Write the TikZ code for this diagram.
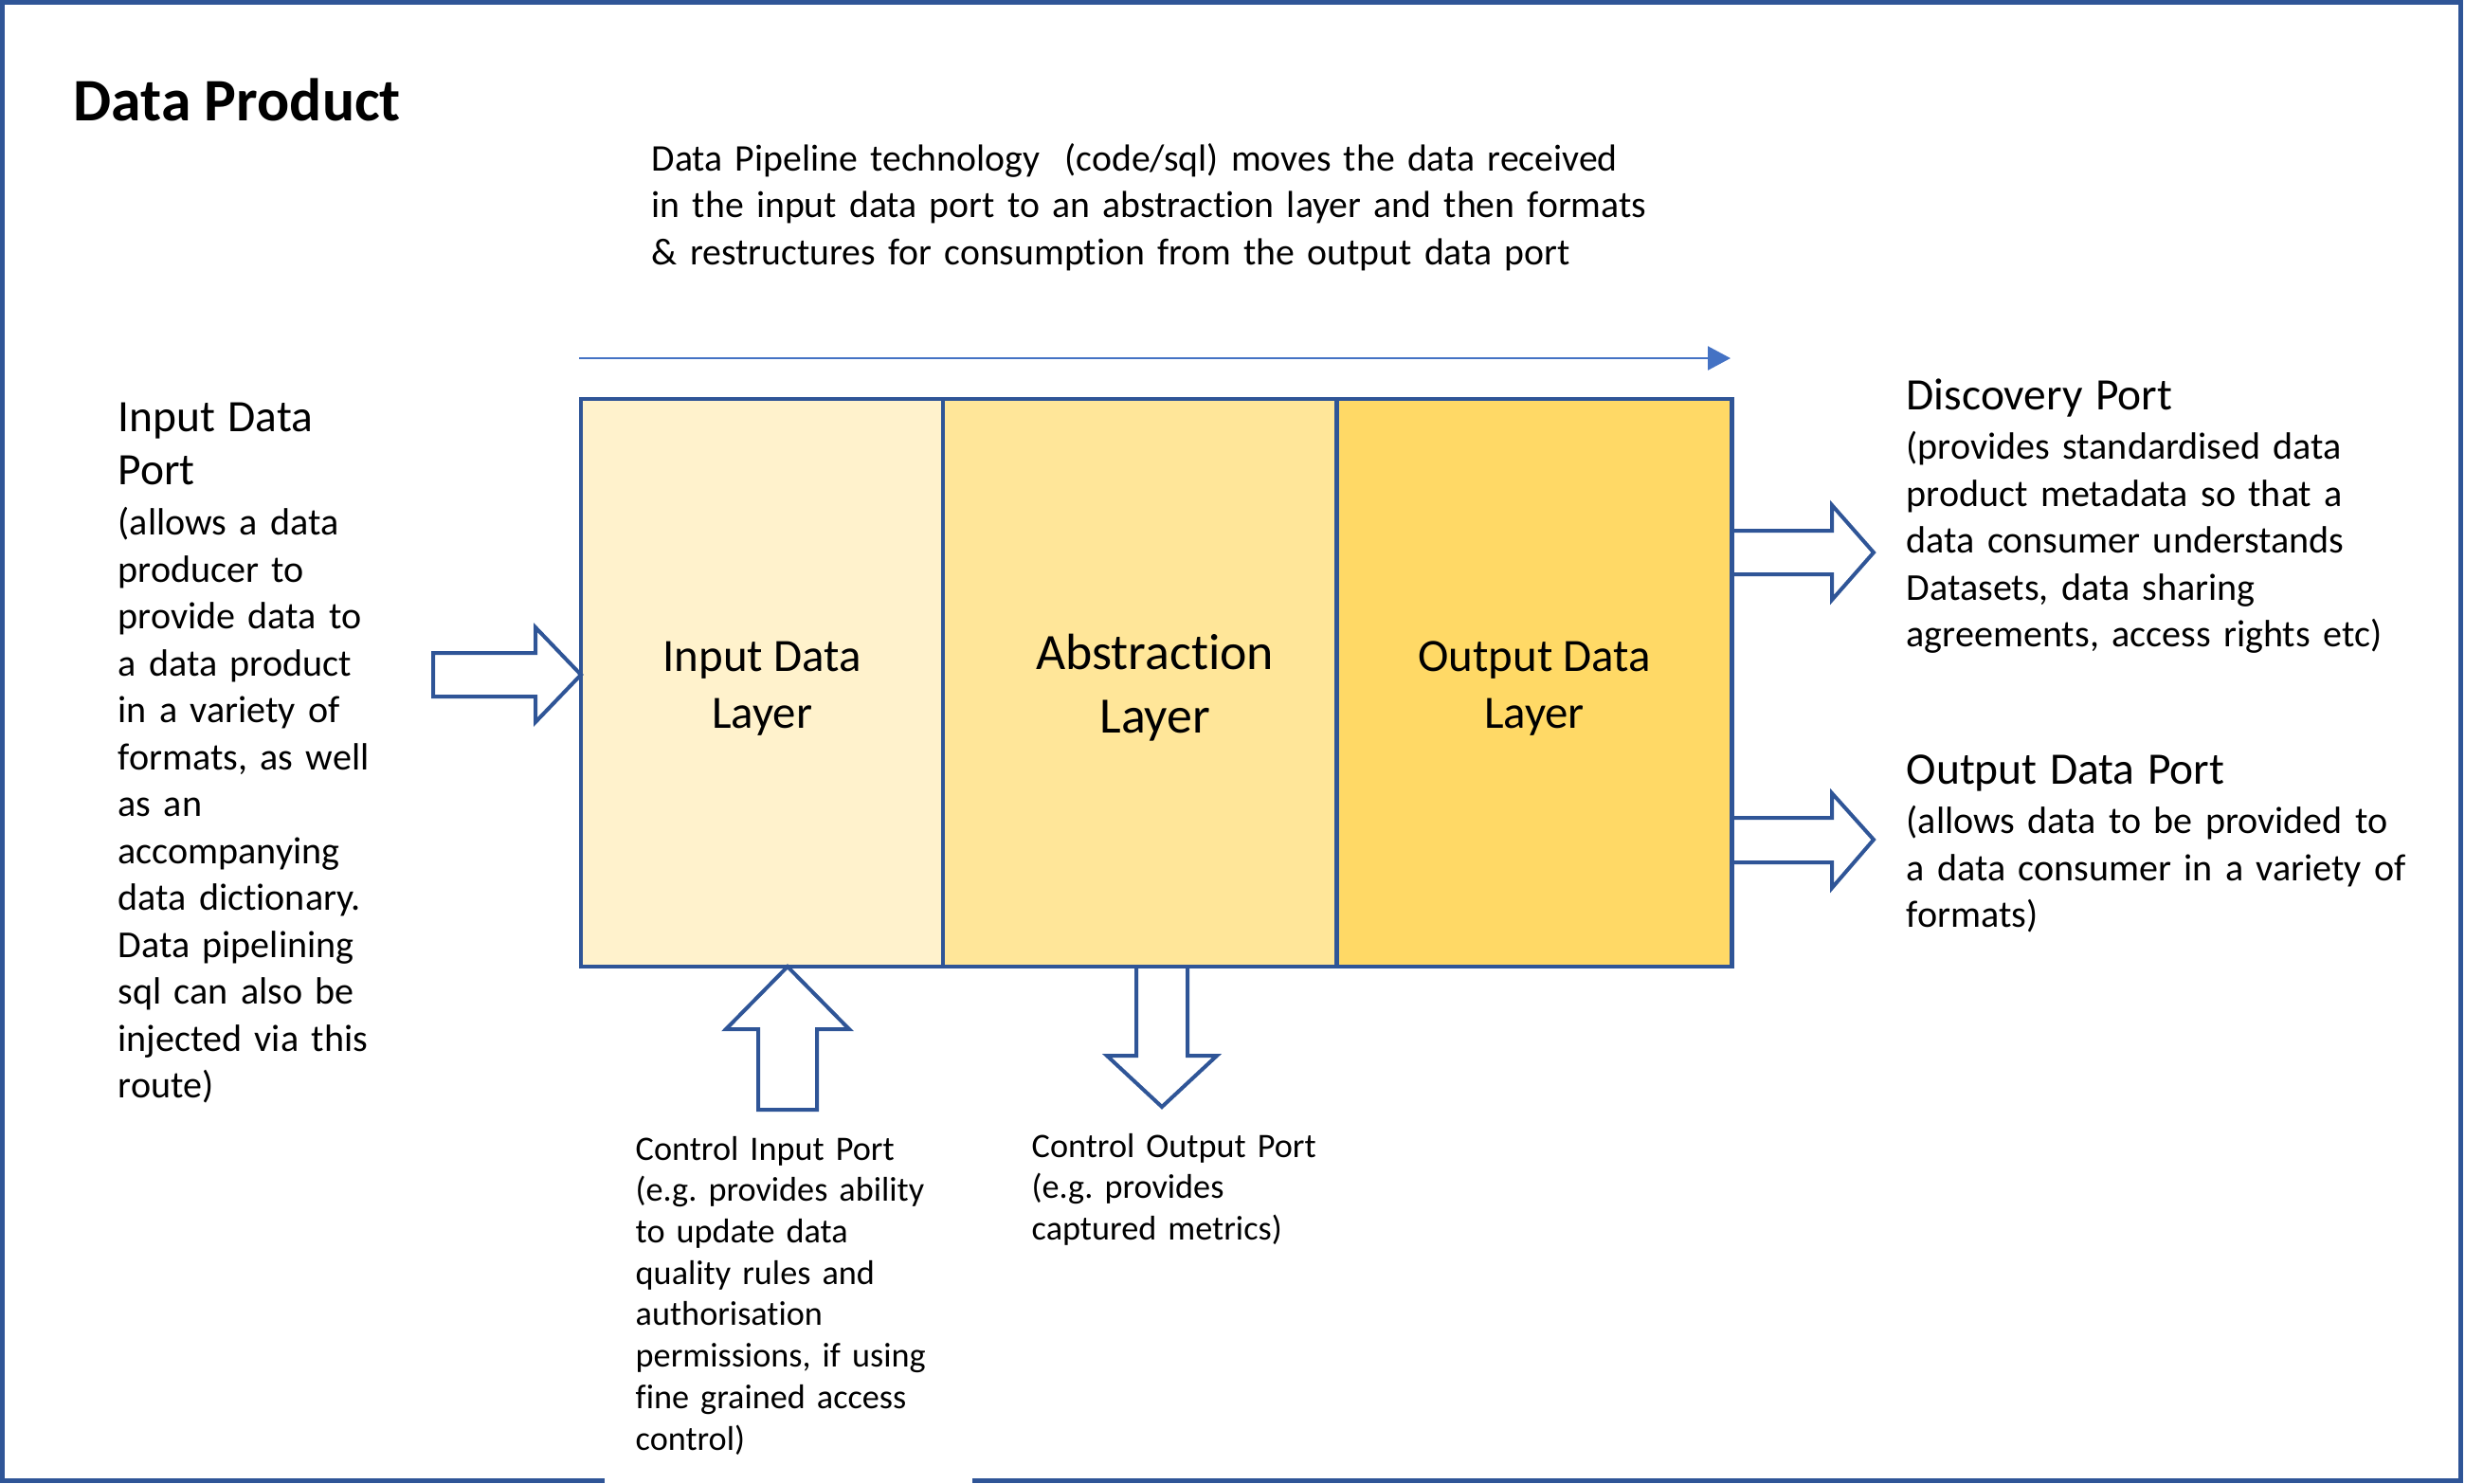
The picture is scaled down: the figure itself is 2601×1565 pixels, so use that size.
\documentclass[tikz,border=0pt]{standalone}
\usepackage{fontspec}
\setmainfont[Ligatures=NoCommon]{Carlito}
\usetikzlibrary{arrows.meta,positioning}
\frenchspacing
\definecolor{frameblue}{HTML}{2F5597}
\definecolor{pipeblue}{HTML}{4472C4}
\definecolor{gold1}{HTML}{FFF2CC}
\definecolor{gold2}{HTML}{FFE699}
\definecolor{gold3}{HTML}{FFD966}
\tikzstyle{layer} = [rectangle, draw=frameblue, line width=0.045cm, minimum height=5.99cm, outer sep=0pt, inner sep=0pt]
\tikzstyle{lbl} = [inner sep=0pt, align=center, font=\fontsize{13.9}{17}\selectfont]
\tikzstyle{txt} = [anchor=base west, inner sep=0pt, align=left, text width=6cm, font=\fontsize{11.4}{14.08}\selectfont]
\tikzstyle{ctl} = [txt, font=\fontsize{10.3}{12.43}\selectfont]
\tikzstyle{fat} = [draw=frameblue, line width=0.04cm]
\tikzstyle{pipe} = [draw=pipeblue, line width=0.025cm, -{Triangle[length=0.24cm,width=0.25cm]}]
\newcommand{\hd}{\fontsize{13.5}{16.2}\selectfont}

\begin{document}
\begin{tikzpicture}[x=0.01cm, y=-0.01cm]
        \useasboundingbox (0,0) rectangle (2601,1565);
        \draw[frameblue, line width=0.05cm] (2.5,2.5) rectangle (2596,1562.5);

        \node[anchor=base west, inner sep=0pt, font=\fontsize{18.1}{22}\selectfont\bfseries] (title) at (77,127) {Data Product};
        \node[txt, text width=12cm, font=\fontsize{11.3}{14.2}\selectfont] (pipetxt) at (687,180) {Data Pipeline technology \ (code/sql) moves the data received\\ in the input data port to an abstraction layer and then formats\\ \& restructures for consumption from the output data port};

        % the three layers
        \node[layer, fill=gold1, minimum width=3.82cm] (inl) at (804,720.5) {};
        \node[layer, fill=gold2, minimum width=4.15cm, right=0pt of inl] (abl) {};
        \node[layer, fill=gold3, minimum width=4.17cm, right=0pt of abl] (outl) {};
        \node[lbl] (inlt) at ([yshift=-0.06cm]inl.center) {Input Data\\ Layer};
        \node[lbl, font=\fontsize{15.3}{19}\selectfont] (ablt) at ([xshift=0.16cm, yshift=-0.05cm]abl.center) {Abstraction\\ Layer};
        \node[lbl] (outlt) at ([yshift=-0.06cm]outl.center) {Output Data\\ Layer};

        \coordinate (ps) at (611,378);
        \coordinate (pe) at (1826,378);
        \draw[pipe] (ps) -- (pe);

        % port texts
        \node[txt] (inport) at (124,455) {{\hd Input Data\\ Port\par}\vspace{0.9pt}(allows a data\\ producer to\\ provide data to\\ a data product\\ in a variety of\\ formats, as well\\ as an\\ accompanying\\ data dictionary.\\ Data pipelining\\ sql can also be\\ injected via this\\ route)};
        \node[txt] (discport) at (2011,432) {{\hd Discovery Port\par}\vspace{0.9pt}(provides standardised data\\ product metadata so that a\\ data consumer understands\\ Datasets, data sharing\\ agreements, access rights etc)};
        \node[txt] (outport) at (2011,827) {{\hd Output Data Port\par}\vspace{0.9pt}(allows data to be provided to\\ a data consumer in a variety of\\ formats)};
        \node[ctl, fill=white, inner xsep=0.33cm, inner ysep=0.3cm, text width=3.22cm] (ctlin) at (637,1224) {Control Input Port\\ (e.g. provides ability\\ to update data\\ quality rules and\\ authorisation\\ permissions, if using\\ fine grained access\\ control)};
        \node[ctl] (ctlout) at (1088,1221) {Control Output Port\\ (e.g. provides\\ captured metrics)};

        % block arrows
        \draw[fat, fill=white] (457,689) -- (565,689) -- (565,662) -- (613,712) -- (565,762) -- (565,735) -- (457,735) -- cycle;
        \draw[fat] (1827,560) -- (1933,560) -- (1933,533) -- (1977,583) -- (1933,633) -- (1933,606) -- (1827,606);
        \draw[fat] (1827,863) -- (1933,863) -- (1933,837) -- (1977,886) -- (1933,937) -- (1933,910) -- (1827,910);
        \draw[fat, fill=white] (831,1020) -- (896,1086) -- (862,1086) -- (862,1171) -- (800,1171) -- (800,1086) -- (766,1086) -- cycle;
        \draw[fat] (1199,1020) -- (1199,1114) -- (1168,1114) -- (1226,1168) -- (1284,1114) -- (1253,1114) -- (1253,1020);
    \end{tikzpicture}
\end{document}
